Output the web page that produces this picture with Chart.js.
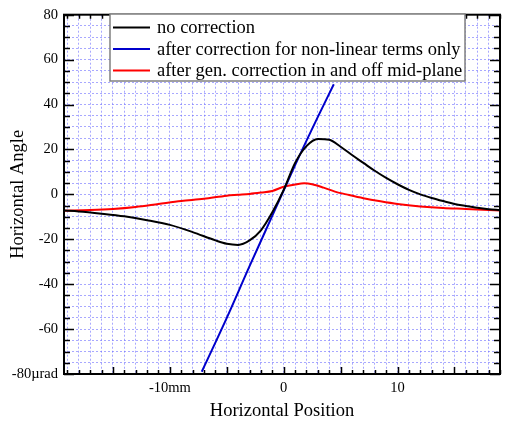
<!DOCTYPE html>
<html>
<head>
<meta charset="utf-8">
<script src="https://cdn.jsdelivr.net/npm/chart.js@4.4.0/dist/chart.umd.min.js"></script>
<style>
  html, body { margin: 0; padding: 0; background: #fff; }
  #wrap { width: 505px; height: 422px; }
</style>
</head>
<body>
<div id="wrap"><canvas id="angleChart"></canvas></div>
<script>
// horizontal position in mm, horizontal angle in µrad
const seriesLabels = [
    'no correction',
    'after correction for non-linear terms only',
    'after gen. correction in and off mid-plane',
];

const noCorrX = [-19.3, -18, -16, -14, -12, -10, -8, -6, -5, -4, -3, -2, -1, 0, 1, 2, 3, 4, 5, 6, 7, 8, 9, 10, 11, 12, 13, 14, 15, 16, 17, 18, 19];
const noCorrY = [-7.2, -7.6, -8.6, -9.8, -11.5, -13.6, -16.8, -20.5, -22, -22.5, -20.5, -16, -8, 2, 14, 21.5, 24.7, 24.3, 21.2, 17.5, 14, 10.5, 7.3, 4.5, 2, 0, -1.6, -3, -4.3, -5.2, -6, -6.6, -7];

const nonLinX = [-7.2, -5, -3, -1, 1, 3, 4.4];
const nonLinY = [-79, -55, -32, -9.5, 13, 34.5, 49];

const genCorrX = [-19.3, -17, -15, -13, -11, -9, -7, -5, -4, -3, -2, -1, 0, 1, 1.8, 2.5, 3.5, 4.5, 5.5, 7, 8.5, 10, 12, 14, 16, 19];
const genCorrY = [-7.3, -7, -6.5, -5.6, -4.3, -3, -2, -0.6, -0.2, 0.2, 0.8, 1.5, 3.4, 4.4, 4.9, 4.5, 3, 1.2, 0, -1.7, -3.1, -4.3, -5.4, -6.1, -6.5, -7.2];

const seriesColors = ['#000000', '#0000cc', '#ff0000'];

const xLabels = { '-10': '-10mm', '0': '0', '10': '10' };
const yLabels = { '80': '80', '60': '60', '40': '40', '20': '20', '0': '0', '-20': '-20', '-40': '-40', '-60': '-60', '-80': '-80µrad' };

const toPoints = (xs, ys) => xs.map((x, i) => ({ x: x, y: ys[i] }));

const serif = 'Liberation Serif, Times New Roman, serif';

// box frame with inward ticks, like the original plot
const framePlugin = {
    id: 'frame',
    afterDatasetsDraw(chart) {
        const { ctx, chartArea: a, scales } = chart;
        const xs = scales.x, ys = scales.y;
        ctx.save();
        ctx.strokeStyle = '#000';
        ctx.lineWidth = 1.5;
        ctx.beginPath();
        for (let v = -19; v <= 19; v++) {
            const px = Math.round(xs.getPixelForValue(v)) + 0.5;
            const len = v % 5 === 0 ? 7 : 4;
            ctx.moveTo(px, a.bottom); ctx.lineTo(px, a.bottom - len);
            ctx.moveTo(px, a.top); ctx.lineTo(px, a.top + len);
        }
        for (let v = -80; v <= 80; v += 5) {
            const py = Math.round(ys.getPixelForValue(v)) + 0.5;
            const len = v % 20 === 0 ? 10 : 6;
            ctx.moveTo(a.left, py); ctx.lineTo(a.left + len, py);
            ctx.moveTo(a.right, py); ctx.lineTo(a.right - len, py);
        }
        ctx.stroke();
        ctx.lineWidth = 2;
        ctx.strokeRect(a.left, a.top, a.right - a.left, a.bottom - a.top);
        ctx.restore();
    },
};

// legend box drawn inside the plot area
const legendBoxPlugin = {
    id: 'legendBox',
    afterDraw(chart) {
        const { ctx } = chart;
        ctx.save();
        ctx.fillStyle = '#fff';
        ctx.fillRect(110, 14, 355, 67);
        ctx.strokeStyle = '#808080';
        ctx.lineWidth = 1.5;
        ctx.strokeRect(110, 14, 355, 67);
        ctx.font = '18.5px ' + serif;
        ctx.textBaseline = 'middle';
        chart.data.datasets.forEach((ds, i) => {
            const y = 27.5 + i * 21.5;
            ctx.strokeStyle = ds.borderColor;
            ctx.lineWidth = 2;
            ctx.beginPath();
            ctx.moveTo(113, y);
            ctx.lineTo(150, y);
            ctx.stroke();
            ctx.fillStyle = '#000';
            ctx.fillText(ds.label, 157, y + 1);
        });
        ctx.restore();
    },
};

const datasets = [
    toPoints(noCorrX, noCorrY),
    toPoints(nonLinX, nonLinY),
    toPoints(genCorrX, genCorrY),
].map((pts, i) => ({
    label: seriesLabels[i],
    data: pts,
    borderColor: seriesColors[i],
    backgroundColor: seriesColors[i],
    borderWidth: 2,
    pointRadius: 0,
    tension: 0.35,
    cubicInterpolationMode: 'monotone',
}));

const ctx = document.getElementById('angleChart').getContext('2d');
const angleChart = new Chart(ctx, {
    type: 'line',
    data: { datasets: datasets },
    options: {
        responsive: true,
        maintainAspectRatio: false,
        animation: false,
        layout: { padding: { top: 13, right: 1, left: 0, bottom: 0 } },
        plugins: {
            legend: { display: false },
            tooltip: { enabled: false },
        },
        scales: {
            x: {
                type: 'linear',
                min: -19.3,
                max: 19,
                afterFit: (scale) => { scale.height = 48; },
                afterBuildTicks: (scale) => {
                    const t = [];
                    for (let v = -19; v <= 19; v++) t.push({ value: v });
                    scale.ticks = t;
                },
                ticks: {
                    autoSkip: false,
                    maxRotation: 0,
                    padding: 5,
                    color: '#000',
                    font: { family: serif, size: 14.5 },
                    callback: (v) => xLabels[String(v)] || '',
                },
                grid: {
                    color: 'rgba(110,110,255,0.6)',
                    lineWidth: 1,
                    drawTicks: false,
                },
                border: { display: false, dash: [2, 2] },
                title: {
                    display: true,
                    text: 'Horizontal Position',
                    color: '#000',
                    font: { family: serif, size: 18.5 },
                    padding: { top: 0, bottom: 0 },
                },
            },
            y: {
                type: 'linear',
                min: -80,
                max: 80,
                afterFit: (scale) => { scale.width = 64; },
                ticks: {
                    stepSize: 5,
                    autoSkip: false,
                    padding: 6,
                    color: '#000',
                    font: { family: serif, size: 14.5 },
                    callback: (v) => yLabels[String(v)] || '',
                },
                grid: {
                    color: 'rgba(110,110,255,0.6)',
                    lineWidth: 1,
                    drawTicks: false,
                },
                border: { display: false, dash: [2, 2] },
                title: {
                    display: true,
                    text: 'Horizontal Angle',
                    color: '#000',
                    font: { family: serif, size: 18.5 },
                    padding: { top: 7, bottom: 0 },
                },
            },
        },
    },
    plugins: [framePlugin, legendBoxPlugin],
});
</script>
</body>
</html>
